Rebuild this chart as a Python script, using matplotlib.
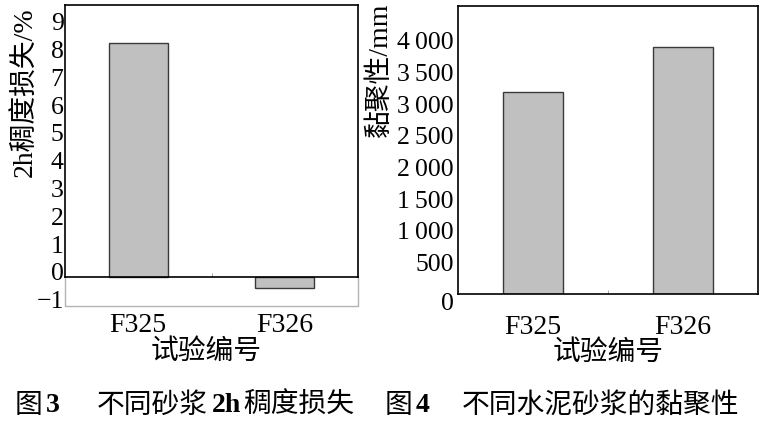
import matplotlib.pyplot as plt
import matplotlib.transforms as mtransforms
import numpy as np

plt.rcParams['font.family'] = ['Liberation Serif', 'Noto Sans CJK SC', 'DejaVu Sans']

# data
samples = ['F325', 'F326']
loss_2h = [8.42, -0.40]        # 2h 稠度损失 / %
cohesion = [3190, 3900]        # 黏聚性 / mm

loss_ticks = list(range(-1, 10))
cohesion_ticks = list(range(0, 4001, 500))

BAR = '#c0c0c0'
EDGE = '#3a3a3a'
FRAME_GRAY = '#b4b4b4'

W, H = 767, 423
fig = plt.figure(figsize=(W / 100, H / 100), dpi=100)


def px_axes(left, top, right, bottom):
    return fig.add_axes([left / W, 1 - bottom / H, (right - left) / W, (bottom - top) / H])


ax1 = px_axes(65, 5, 358, 306)
ax2 = px_axes(458, 6, 758, 294)

x = np.arange(len(samples))

# ---- figure 3: 2h loss
ax1.bar(x, loss_2h, width=0.4, color=BAR, edgecolor=EDGE, linewidth=1, zorder=2)
ax1.set_xlim(-0.5, 1.5)
ymin1, ymax1 = -1.05, 9.78
ax1.set_ylim(ymin1, ymax1)
ax1.set_yticks(loss_ticks)

ax1.spines['bottom'].set_position(('data', 0))
ax1.spines['left'].set_bounds(0, ymax1)
ax1.spines['right'].set_bounds(0, ymax1)
for s in ax1.spines.values():
    s.set_linewidth(1.2)
    s.set_color('black')
# lower part of the frame is light gray
ax1.plot([0, 0, 1, 1], [0, ymin1, ymin1, 0], transform=ax1.get_yaxis_transform(),
         color=FRAME_GRAY, lw=1, clip_on=False, zorder=1)

ax1.set_xticks(x)
ax1.set_xticklabels(samples)
ax1.set_xticks([0.5], minor=True)
ax1.tick_params(axis='x', which='major', length=0, pad=26, labelsize=20)
ax1.tick_params(axis='x', which='minor', direction='in', length=3, color='#999999')
ax1.tick_params(axis='y', length=0, pad=1, labelsize=18.5)

ax1.set_ylabel('2h稠度损失/%', fontsize=20, va='center')
ax1.yaxis.set_label_coords(-0.135, 0.711)
ax1.set_xlabel('试验编号', fontsize=20, va='center')
ax1.xaxis.set_label_coords(0.481, -0.153)

# ---- figure 4: cohesion
ax2.bar(x, cohesion, width=0.4, color=BAR, edgecolor=EDGE, linewidth=1, zorder=2)
ax2.set_xlim(-0.5, 1.5)
ax2.set_ylim(0, 4550)
ax2.set_yticks(cohesion_ticks)
ax2.set_yticklabels([f'{t:,}'.replace(',', '\u2009') for t in cohesion_ticks])
for s in ax2.spines.values():
    s.set_linewidth(1.2)
    s.set_color('black')

ax2.set_xticks(x)
ax2.set_xticklabels(samples)
ax2.set_xticks([0.5], minor=True)
ax2.tick_params(axis='x', which='major', length=0, pad=15, labelsize=20)
ax2.tick_params(axis='x', which='minor', direction='in', length=3, color='#999999')
ax2.tick_params(axis='y', length=0, pad=3, labelsize=18.5)

ax2.set_ylabel('黏聚性/mm', fontsize=20, va='center')
ax2.yaxis.set_label_coords(-0.26, 0.78)
ax2.set_xlabel('试验编号', fontsize=20, va='center')
ax2.xaxis.set_label_coords(0.5, -0.205)

# nudge tick labels like the reference
up = mtransforms.ScaledTranslation(0, 5 / 100, fig.dpi_scale_trans)
for lab in ax1.get_yticklabels():
    lab.set_transform(lab.get_transform() + up)
down = mtransforms.ScaledTranslation(0, -8 / 100, fig.dpi_scale_trans)
lab0 = ax2.get_yticklabels()[0]
lab0.set_transform(lab0.get_transform() + down)

# ---- captions
cap_y = 1 - 405 / H
cjk = ['Noto Sans CJK SC']
serif_b = dict(family='Liberation Serif', weight='bold')
pieces = [
    (15, '图', dict(family=cjk)),
    (46, '3', serif_b),
    (97, '不同砂浆', dict(family=cjk)),
    (212, '2h', serif_b),
    (243, '稠度损失', dict(family=cjk)),
    (385, '图', dict(family=cjk)),
    (416, '4', serif_b),
    (462, '不同水泥砂浆的黏聚性', dict(family=cjk)),
]
for px, txt, kw in pieces:
    fig.text(px / W, cap_y, txt, fontsize=20, ha='left', va='center', **kw)

fig.savefig('out.png', dpi=100)
